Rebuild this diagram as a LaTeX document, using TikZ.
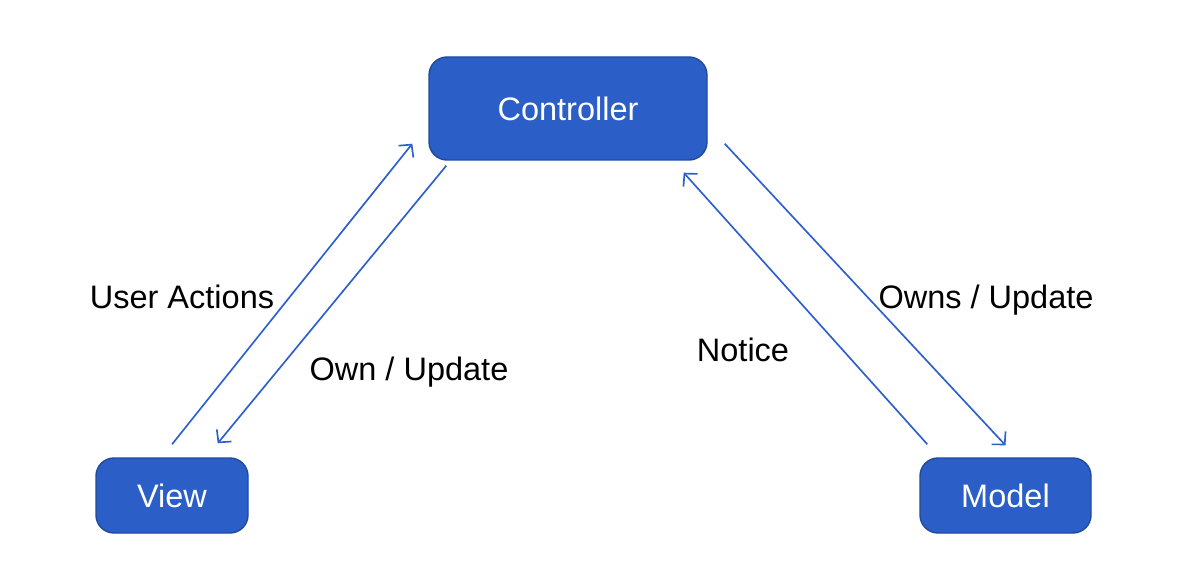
\documentclass[tikz,border=0pt]{standalone}
\usepackage{fontspec}
\setmainfont{Liberation Sans}
\usetikzlibrary{arrows.meta,
                positioning
            }
\definecolor{boxblue}{HTML}{2B5FC7}
\definecolor{boxedge}{HTML}{1F4A9E}
\definecolor{linkblue}{HTML}{2E5FCC}
\tikzset{
    part/.style={draw=boxedge, fill=boxblue, line width=0.8pt, rounded corners=0.36cm,
                 text=white, font=\fontsize{18.5}{22}\selectfont},
    link/.style={draw=linkblue, line width=0.95pt, -{Straight Barb[length=1.8mm, width=3.8mm]}},
    tag/.style={font=\fontsize{18.5}{22}\selectfont}
}

\begin{document}
\begin{tikzpicture}
            \useasboundingbox (0, 0) rectangle (23.68, 11.4);
            \node[part, minimum width=5.56cm, minimum height=2.06cm] (controller) at (11.36, 9.23) {Controller};
            \node[part, minimum width=3.04cm, minimum height=1.5cm] (view) at (3.44, 1.49) {View};
            \node[part, minimum width=3.42cm, minimum height=1.5cm] (model) at (20.11, 1.49) {Model};
            \coordinate (ua-from) at ([yshift=0.26cm]view.north);
            \coordinate (ua-to) at ([xshift=-0.32cm, yshift=0.34cm]controller.south west);
            \coordinate (ou-from) at ([xshift=0.36cm, yshift=-0.1cm]controller.south west);
            \coordinate (ou-to) at ([xshift=-0.62cm, yshift=0.28cm]view.north east);
            \coordinate (no-from) at ([xshift=0.16cm, yshift=0.26cm]model.north west);
            \coordinate (no-to) at ([xshift=-0.48cm, yshift=-0.24cm]controller.south east);
            \coordinate (ow-from) at ([xshift=0.34cm, yshift=0.34cm]controller.south east);
            \coordinate (ow-to) at ([yshift=0.24cm]model.north);
            \draw[link] (ua-from) -- (ua-to);
            \draw[link] (ou-from) -- (ou-to);
            \draw[link] (no-from) -- (no-to);
            \draw[link] (ow-from) -- (ow-to);
            \node[tag] (useractions) at (3.64, 5.46) {User Actions};
            \node[tag] (ownupdate) at (8.18, 3.96) {Own / Update};
            \node[tag] (notice) at (14.86, 4.4) {Notice};
            \node[tag] (ownsupdate) at (19.72, 5.4) {Owns / Update};
        \end{tikzpicture}
\end{document}
